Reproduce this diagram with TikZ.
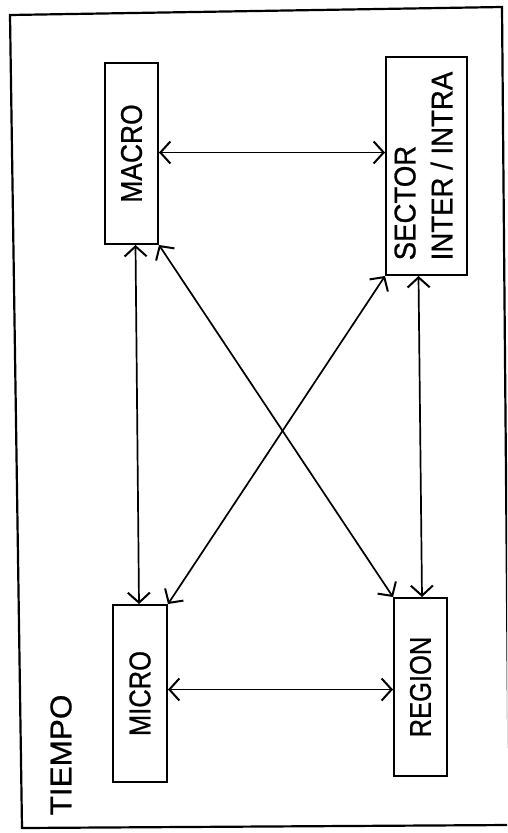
\documentclass[tikz,border=0pt]{standalone}
\usepackage{fontspec}
\setmainfont{Liberation Sans}
\newfontfamily\labfont{Liberation Sans}[FakeBold=0.8]
\usepackage{graphicx}
\usetikzlibrary{arrows.meta}
\tikzset{
  box/.style={draw, line width=2pt, inner sep=0pt, font=\labfont\fontsize{30}{37}\selectfont},
  tip/.tip={Straight Barb[length=10pt,width=22pt,line width=2pt]},
  link/.style={line width=1.7pt, tip-tip},
  frame/.style={line width=2.2pt}
}
\newcommand{\vtext}[2][0.88]{\rotatebox{90}{\scalebox{#1}[1]{#2}}}
\begin{document}
\begin{tikzpicture}[x=1pt,y=-1pt]
\useasboundingbox (0,0) rectangle (507,833);
\clip (0,0) rectangle (507,833);
% outer frame
\draw[frame] (10,15) coordinate (f1) -- (502,7) coordinate (f2) -- (509,825) coordinate (f3) -- (22,828) coordinate (f4) -- cycle;
% boxes
\node[box, minimum width=53pt, minimum height=181pt] (macro) at (131.5,153.5) {\vtext{MACRO}};
\node[box, minimum width=81pt, minimum height=218pt] (sector) at (426.5,166) {\vtext[0.92]{\begin{tabular}{@{}l@{}}SECTOR\\INTER / INTRA\end{tabular}}};
\node[box, minimum width=54pt, minimum height=177pt] (micro) at (140,693.5) {\vtext[0.85]{MICRO}};
\node[box, minimum width=53pt, minimum height=178pt] (region) at (420.5,687) {\vtext[0.85]{REGION}};
% label
\node[font=\labfont\fontsize{30}{36}\selectfont] (tiempo) at (61,755) {\vtext[1.05]{TIEMPO}};
% connectors
\draw[link] ([yshift=1pt]macro.east) -- ([yshift=1pt]macro.east -| sector.west);
\draw[link] ([yshift=4pt]micro.east) -- ([yshift=4pt]micro.east -| region.west);
\draw[link] ([xshift=4pt]macro.south) -- ([xshift=-1pt]micro.north);
\draw[link] ([xshift=-8pt]sector.south) -- ([xshift=1.5pt]region.north);
\draw[link] (macro.south east) -- (region.north west);
\draw[link] (sector.south west) -- (micro.north east);
\end{tikzpicture}
\end{document}
